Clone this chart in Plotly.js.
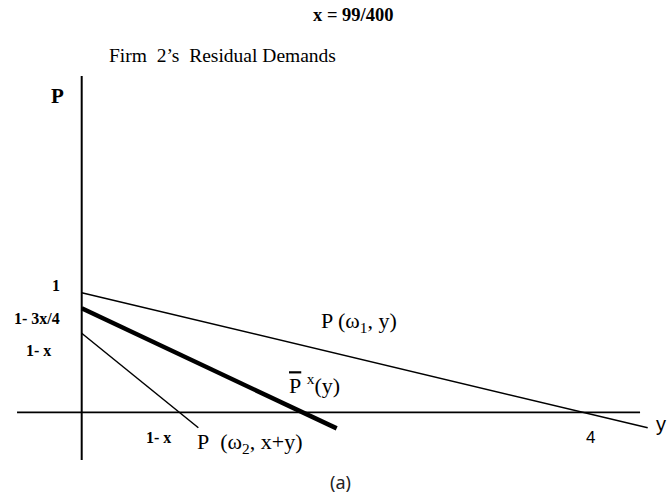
<!DOCTYPE html>
<html>
<head>
<meta charset="utf-8">
<script src="https://cdn.plot.ly/plotly-3.0.1.min.js"></script>
<style>
  html, body { margin: 0; padding: 0; background: #fff; }
  #chart { width: 669px; height: 498px; }
</style>
</head>
<body>
<div id="chart"></div>
<script>
// Quantity (y) and price (P) values of the residual demand curves, x = 99/400
const highDemandY = [0, 4.517];
const highDemandP = [1, -0.129];

const residualY = [0, 2.035];
const residualP = [0.870, -0.134];

const lowDemandY = [0, 0.931];
const lowDemandP = [0.661, -0.129];

// Extents of the drawn coordinate axes
const quantityAxisY = [-0.516, 4.456];
const quantityAxisP = [0, 0];
const priceAxisY = [0, 0];
const priceAxisP = [2.812, -0.399];

const W = 669, H = 498;
const fx = v => v / W;
const fy = v => 1 - v / H;

const serif = 'Liberation Serif, Times New Roman, serif';
const sans = 'Liberation Sans, Arial, sans-serif';

function line(xs, ys, width) {
  return {
    type: 'scatter', mode: 'lines', x: xs, y: ys,
    line: { color: '#000', width: width },
    hoverinfo: 'skip', showlegend: false
  };
}

const traces = [
  line(quantityAxisY, quantityAxisP, 1.6),
  line(priceAxisY, priceAxisP, 2),
  line(highDemandY, highDemandP, 1.5),
  line(lowDemandY, lowDemandP, 1.5),
  line(residualY, residualP, 4.5)
];

function note(text, x, y, size, family, color) {
  return {
    text: text, xref: 'paper', yref: 'paper', x: fx(x), y: fy(y),
    xanchor: 'center', yanchor: 'middle', showarrow: false,
    font: { family: family, size: size, color: color || '#000' }
  };
}

const annotations = [
  note('<b>x = 99/400</b>', 353, 15, 18.5, serif),
  note('Firm\u00a0\u00a02’s\u00a0\u00a0Residual Demands', 222, 56, 19.5, serif),
  note('<b>P</b>', 57, 96, 21, serif),
  note('<b>1</b>', 56, 285, 16, serif),
  note('<b>1- 3x/4</b>', 37, 318, 16, serif),
  note('<b>1- x</b>', 38, 350, 16, serif),
  note('<b>1- x</b>', 158, 437, 16, serif),
  note('P\u00a0\u00a0(ω<sub>2</sub>, x+y)', 249, 443, 22, serif),
  note('P (ω<sub>1</sub>, y)', 359, 322, 22, serif),
  note('<span style="text-decoration:overline">P</span>\u00a0<sup>x</sup>(y)', 314, 384, 22, serif),
  note('4', 590, 437, 17, sans),
  note('y', 661, 424, 20, sans),
  note('(a)', 340, 482, 18, 'Noto Sans, DejaVu Sans, sans-serif', '#222')
];

const layout = {
  width: W, height: H,
  margin: { l: 0, r: 0, t: 0, b: 0 },
  paper_bgcolor: '#fff', plot_bgcolor: '#fff',
  xaxis: { range: [-0.652, 4.687], visible: false, fixedrange: true },
  yaxis: { range: [-0.716, 3.447], visible: false, fixedrange: true },
  annotations: annotations,
  showlegend: false
};

Plotly.newPlot('chart', traces, layout, { staticPlot: true, displayModeBar: false });
</script>
</body>
</html>
